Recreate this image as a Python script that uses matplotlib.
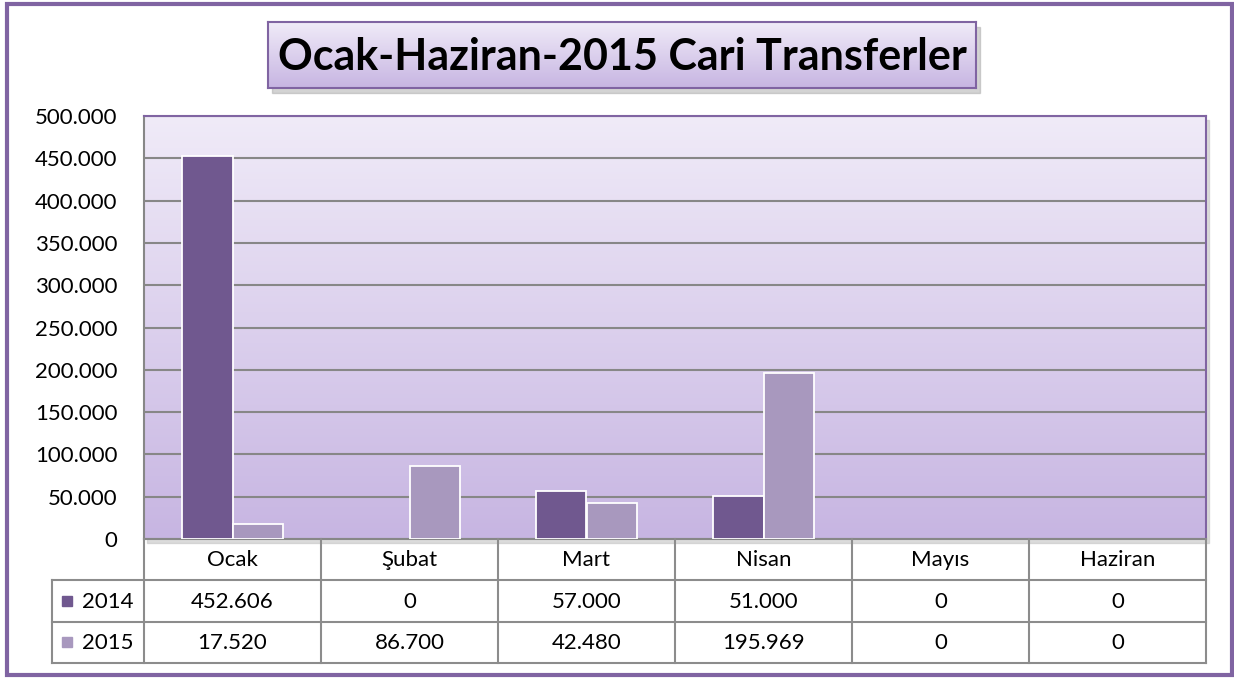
import numpy as np
import matplotlib.pyplot as plt
from matplotlib.patches import Rectangle
from matplotlib.colors import LinearSegmentedColormap

# veriler
months = ['Ocak', 'Şubat', 'Mart', 'Nisan', 'Mayıs', 'Haziran']
years = ['2014', '2015']
v2014 = [452606, 0, 57000, 51000, 0, 0]
v2015 = [17520, 86700, 42480, 195969, 0, 0]
yticks = np.arange(0, 500001, 50000)
title = 'Ocak-Haziran-2015 Cari Transferler'

c2014 = '#70588F'
c2015 = '#A898BE'
purple = '#8064A2'
gridc = '#878787'

plt.rcParams['font.family'] = ['Lato', 'DejaVu Sans']


def fmt(v):
    return f'{v:,}'.replace(',', '.')


W, H = 1234, 678
fig = plt.figure(figsize=(W / 100, H / 100), dpi=100)


def box(l, t, r, b):
    return [l / W, 1 - b / H, (r - l) / W, (b - t) / H]


grad = LinearSegmentedColormap.from_list('g', ['#F0EBF8', '#C7B5E2'])
gimg = np.linspace(0, 1, 256).reshape(-1, 1)

# dis cerceve
fig.add_artist(Rectangle((6.5 / W, 1 - 675 / H), 1225 / W, 671 / H, transform=fig.transFigure,
                         fill=False, edgecolor=purple, lw=3, zorder=-5))

# grafik alani
pl, pt, pr, pb = 144, 116, 1206, 539
fig.add_artist(Rectangle(((pl + 3) / W, 1 - (pb + 4) / H), (pr - pl) / W, (pb - pt) / H,
                         transform=fig.transFigure, color='#c4c4c4', alpha=0.6, zorder=-1))
ax = fig.add_axes(box(pl, pt, pr, pb))
ax.imshow(gimg, cmap=grad, extent=[-0.5, 5.5, 0, 500000], aspect='auto', origin='upper', zorder=0)
x = np.arange(len(months))
w = 0.285
ax.bar(x - w / 2, v2014, w, color=c2014, edgecolor='white',
       linewidth=[1.3 if v else 0 for v in v2014], zorder=3)
ax.bar(x + w / 2, v2015, w, color=c2015, edgecolor='white',
       linewidth=[1.3 if v else 0 for v in v2015], zorder=3)
ax.set_xlim(-0.5, 5.5)
ax.set_ylim(0, 500000)
ax.set_yticks(yticks)
ax.set_yticklabels([fmt(v) for v in yticks])
ax.set_xticks([])
ax.tick_params(axis='y', length=0, pad=19, labelsize=16)
ax.yaxis.grid(True, color=gridc, lw=1.5)
ax.set_axisbelow(True)
for s in ['top', 'right']:
    ax.spines[s].set_color(purple)
    ax.spines[s].set_linewidth(1.5)
for s in ['left', 'bottom']:
    ax.spines[s].set_color(gridc)
    ax.spines[s].set_linewidth(1.5)

# veri tablosu
tl, tb = 52, 663
tax = fig.add_axes(box(tl, pb, pr, tb))
unit = (pr - pl) / 6
xl = -0.5 - (pl - tl) / unit
tax.set_xlim(xl, 5.5)
tax.set_ylim(3, 0)
tax.axis('off')
lc = '#8c8c8c'
for k in range(7):
    tax.plot([-0.5 + k, -0.5 + k], [0, 3], color=lc, lw=1.5, clip_on=False)
tax.plot([xl, xl], [1, 3], color=lc, lw=1.5, clip_on=False)
for yy in [1, 2, 3]:
    tax.plot([xl, 5.5], [yy, yy], color=lc, lw=1.5, clip_on=False)
for i, m in enumerate(months):
    tax.text(i, 0.52, m, ha='center', va='center', fontsize=16)
    tax.text(i, 1.52, fmt(v2014[i]), ha='center', va='center', fontsize=16)
    tax.text(i, 2.52, fmt(v2015[i]), ha='center', va='center', fontsize=16)
for r, (yr, c) in enumerate(zip(years, [c2014, c2015])):
    tax.plot([xl + 15 / unit], [1.5 + r], marker='s', ms=7, color=c, clip_on=False)
    tax.text(xl + 30 / unit, 1.52 + r, yr, ha='left', va='center', fontsize=16)

# baslik kutusu
bl, bt, br, bb = 268, 22, 976, 88
fig.add_artist(Rectangle(((bl + 4) / W, 1 - (bb + 5) / H), (br - bl) / W, (bb - bt) / H,
                         transform=fig.transFigure, color='#a8a8a8', alpha=0.5, zorder=-1))
tbx = fig.add_axes(box(bl, bt, br, bb))
tbx.imshow(gimg, cmap=grad, extent=[0, 1, 0, 1], aspect='auto', origin='upper')
tbx.set_xticks([])
tbx.set_yticks([])
for s in tbx.spines.values():
    s.set_color(purple)
    s.set_linewidth(1.5)
tbx.text(0.5, 0.47, title, ha='center', va='center', fontsize=31, fontweight='bold',
         transform=tbx.transAxes)

fig.savefig('out.png', dpi=100)
